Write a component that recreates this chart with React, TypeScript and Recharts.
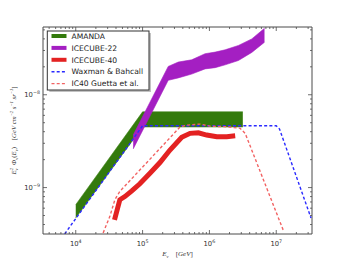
import React from 'react';
import { ComposedChart, Area, Line, XAxis, YAxis, ReferenceArea } from 'recharts';

// energies in GeV, E^2 flux in GeV cm^-2 s^-1 sr^-1
const amandaE = [1e4, 1e5, 3.16e6];
const amandaLo = [4.7e-10, 4.5e-9, 4.5e-9];
const amandaHi = [6.55e-10, 6.55e-9, 6.55e-9];

const ic22E = [7.24e4, 2.42e5, 3.42e5, 5.43e5, 8.61e5, 1.22e6, 1.72e6, 2.72e6, 4.31e6, 6.67e6];
const ic22Lo = [2.61e-9, 1.43e-8, 1.52e-8, 1.67e-8, 1.9e-8, 1.96e-8, 2.1e-8, 2.34e-8, 2.86e-8, 3.68e-8];
const ic22Hi = [3.68e-9, 2.02e-8, 2.25e-8, 2.38e-8, 2.77e-8, 2.88e-8, 3.05e-8, 3.4e-8, 4.0e-8, 5.2e-8];

const ic40E = [3.8e4, 4.57e4, 5.43e4, 6.9e4, 9.1e4, 1.29e5, 1.82e5, 2.57e5, 3.85e5, 5.13e5, 6.84e5, 9.1e5, 1.29e6, 1.82e6, 2.43e6];
const ic40F = [4.5e-10, 7.4e-10, 8.0e-10, 9.2e-10, 1.1e-9, 1.43e-9, 1.86e-9, 2.54e-9, 3.48e-9, 3.84e-9, 3.9e-9, 3.68e-9, 3.53e-9, 3.53e-9, 3.61e-9];

const wbE = [6.84e3, 1e5, 1e7, 1.12e7, 3.31e7];
const wbF = [3.17e-10, 4.63e-9, 4.63e-9, 4.27e-9, 4.71e-10];

const guettaE = [2.57e4, 3.24e4, 3.85e4, 4.57e4, 3.63e5, 4.57e5, 7.24e5, 1.02e6, 1.82e6, 2.88e6, 3.43e6, 1.29e7];
const guettaF = [3.25e-10, 4.9e-10, 7.4e-10, 9.1e-10, 4.49e-9, 4.71e-9, 4.83e-9, 4.59e-9, 4.52e-9, 4.35e-9, 3.84e-9, 3.39e-10];

const xDecades = [3, 4, 5, 6, 7];
const yDecades = [-10, -9, -8];
const mantissas = [1, 2, 3, 4, 5, 6, 7, 8, 9];

const legendItems = [
  { name: 'AMANDA', color: '#337a0c', width: 4, dash: undefined },
  { name: 'ICECUBE-22', color: '#a41fc2', width: 4, dash: undefined },
  { name: 'ICECUBE-40', color: '#e32222', width: 4, dash: undefined },
  { name: 'Waxman & Bahcall', color: '#2a2aff', width: 1.4, dash: '3 2.2' },
  { name: 'IC40 Guetta et al.', color: '#f26363', width: 1.4, dash: '3 2.2' },
];

const X_DOMAIN = [3.51, 7.535];
const Y_DOMAIN = [-9.5, -7.27];
const W = 346;
const H = 261;
const M_TOP = 27;
const M_RIGHT = 34;
const X_AXIS_H = 27;
const Y_AXIS_W = 43;
const PLOT_W = W - Y_AXIS_W - M_RIGHT;
const PLOT_H = H - M_TOP - X_AXIS_H;
const FRAME = '#4a4a4a';

const lg = Math.log10;
const inside = (v: number, d: number[]) => v >= d[0] - 1e-9 && v <= d[1] + 1e-9;

const xTicks = xDecades.flatMap((d) => mantissas.map((m) => lg(m) + d)).filter((v) => inside(v, X_DOMAIN));
const yTicks = yDecades.flatMap((d) => mantissas.map((m) => lg(m) + d)).filter((v) => inside(v, Y_DOMAIN));

const bandRows = (e: number[], lo: number[], hi: number[]) =>
  e.map((v, i) => ({ x: lg(v), band: [lg(lo[i]), lg(hi[i])] }));
const lineRows = (e: number[], f: number[]) => e.map((v, i) => ({ x: lg(v), y: lg(f[i]) }));

const amandaData = bandRows(amandaE, amandaLo, amandaHi);
const ic22Data = bandRows(ic22E, ic22Lo, ic22Hi);
const ic40Data = lineRows(ic40E, ic40F);
const wbData = lineRows(wbE, wbF);
const guettaData = lineRows(guettaE, guettaF);

const isMajor = (v: number) => Math.abs(v - Math.round(v)) < 1e-6;

const XTick = (props: any) => {
  const { x, y, payload } = props;
  const v = payload.value;
  const len = isMajor(v) ? 4 : 2;
  return (
    <g>
      <line x1={x} y1={y} x2={x} y2={y - len} stroke={FRAME} strokeWidth={0.8} />
      <line x1={x} y1={y - PLOT_H} x2={x} y2={y - PLOT_H + len} stroke={FRAME} strokeWidth={0.8} />
      {isMajor(v) && (
        <text x={x} y={y + 12} textAnchor="middle" fontSize={6.8} fill="#333" fontFamily="DejaVu Sans">
          10<tspan dy={-3} fontSize={4.8}>{Math.round(v)}</tspan>
        </text>
      )}
    </g>
  );
};

const YTick = (props: any) => {
  const { x, y, payload } = props;
  const v = payload.value;
  const len = isMajor(v) ? 4 : 2;
  return (
    <g>
      <line x1={x} y1={y} x2={x + len} y2={y} stroke={FRAME} strokeWidth={0.8} />
      <line x1={x + PLOT_W} y1={y} x2={x + PLOT_W - len} y2={y} stroke={FRAME} strokeWidth={0.8} />
      {isMajor(v) && (
        <text x={x - 3} y={y + 2.5} textAnchor="end" fontSize={6.8} fill="#333" fontFamily="DejaVu Sans">
          10<tspan dy={-3} fontSize={4.8}>{'\u2212' + Math.abs(Math.round(v))}</tspan>
        </text>
      )}
    </g>
  );
};

const XLabel = (props: any) => {
  const { viewBox } = props;
  const cx = viewBox.x + viewBox.width / 2;
  return (
    <text x={cx} y={viewBox.y + 22} textAnchor="middle" fontSize={7} fill="#333" fontFamily="Liberation Serif">
      <tspan fontStyle="italic">E</tspan>
      <tspan fontStyle="italic" fontSize={4.8} dy={1.5}>ν</tspan>
      <tspan dy={-1.5}>{'\u2002\u2002['}</tspan>
      <tspan fontStyle="italic">GeV</tspan>
      <tspan>]</tspan>
    </text>
  );
};

const YLabel = (props: any) => {
  const { viewBox } = props;
  const cx = 16;
  const cy = viewBox.y + viewBox.height / 2;
  return (
    <text
      x={cx}
      y={cy}
      transform={`rotate(-90, ${cx}, ${cy})`}
      textAnchor="middle"
      fontSize={6.8}
      fill="#333"
      fontFamily="Liberation Serif"
      fontStyle="italic"
    >
      E<tspan fontSize={4.6} dy={-2.6}>2</tspan>
      <tspan fontSize={4.6} dx={-2.3} dy={4.2}>ν</tspan>
      <tspan dy={-1.6}>{'\u2002Φ'}</tspan>
      <tspan fontSize={4.6} dy={1.6}>ν</tspan>
      <tspan dy={-1.6} fontStyle="normal">(</tspan>
      <tspan>E</tspan>
      <tspan fontSize={4.6} dy={1.6}>ν</tspan>
      <tspan dy={-1.6} fontStyle="normal">)</tspan>
      <tspan fontStyle="normal">{'\u2002\u2002['}</tspan>
      <tspan>GeV cm</tspan>
      <tspan fontSize={4.6} dy={-2.6}>−2</tspan>
      <tspan dy={2.6}>{' s'}</tspan>
      <tspan fontSize={4.6} dy={-2.6}>−1</tspan>
      <tspan dy={2.6}>{' sr'}</tspan>
      <tspan fontSize={4.6} dy={-2.6}>−1</tspan>
      <tspan dy={2.6} fontStyle="normal">]</tspan>
    </text>
  );
};

function LegendBox() {
  return (
    <svg width={110} height={66} style={{ position: 'absolute', left: 45, top: 29 }}>
      <rect x={4.3} y={4} width={101.7} height={59} fill="#999" opacity={0.6} />
      <rect x={2.3} y={2} width={101.7} height={59} fill="#fff" stroke="#333" strokeWidth={1} />
      {legendItems.map((it, i) => {
        const cy = 7 + i * 11.9;
        return (
          <g key={it.name}>
            <line x1={6.5} x2={21.5} y1={cy} y2={cy} stroke={it.color} strokeWidth={it.width} strokeDasharray={it.dash} />
            <text x={26.5} y={cy + 2.7} fontSize={7.6} fill="#222" fontFamily="DejaVu Sans">
              {it.name}
            </text>
          </g>
        );
      })}
    </svg>
  );
}

export default function App() {
  return (
    <div style={{ position: 'absolute', left: 0, top: 0, width: W, height: H, background: '#fff' }}>
      <ComposedChart width={W} height={H} margin={{ top: M_TOP, right: M_RIGHT, bottom: 0, left: 0 }}>
        <XAxis
          type="number"
          dataKey="x"
          domain={X_DOMAIN}
          allowDataOverflow
          ticks={xTicks}
          interval={0}
          tickLine={false}
          axisLine={false}
          tickSize={0}
          tickMargin={0}
          height={X_AXIS_H}
          tick={<XTick />}
          label={<XLabel />}
        />
        <YAxis
          type="number"
          domain={Y_DOMAIN}
          allowDataOverflow
          ticks={yTicks}
          interval={0}
          tickLine={false}
          axisLine={false}
          tickSize={0}
          tickMargin={0}
          width={Y_AXIS_W}
          tick={<YTick />}
          label={<YLabel />}
        />
        <Area
          data={amandaData}
          dataKey="band"
          type="linear"
          fill="#337a0c"
          fillOpacity={1}
          stroke="#3d8214"
          strokeWidth={0.6}
          isAnimationActive={false}
        />
        <Area
          data={ic22Data}
          dataKey="band"
          type="linear"
          fill="#a41fc2"
          fillOpacity={1}
          stroke="#a41fc2"
          strokeWidth={0.6}
          isAnimationActive={false}
        />
        <Line
          data={ic40Data}
          dataKey="y"
          type="linear"
          stroke="#e32222"
          strokeWidth={5}
          dot={false}
          isAnimationActive={false}
        />
        <Line
          data={wbData}
          dataKey="y"
          type="linear"
          stroke="#2a2aff"
          strokeWidth={1.4}
          strokeDasharray="3 2.2"
          dot={false}
          isAnimationActive={false}
        />
        <Line
          data={guettaData}
          dataKey="y"
          type="linear"
          stroke="#f26363"
          strokeWidth={1.4}
          strokeDasharray="3 2.2"
          dot={false}
          isAnimationActive={false}
        />
        <ReferenceArea
          x1={X_DOMAIN[0]}
          x2={X_DOMAIN[1]}
          y1={Y_DOMAIN[0]}
          y2={Y_DOMAIN[1]}
          fill="none"
          stroke={FRAME}
          strokeWidth={1}
        />
      </ComposedChart>
      <LegendBox />
    </div>
  );
}
